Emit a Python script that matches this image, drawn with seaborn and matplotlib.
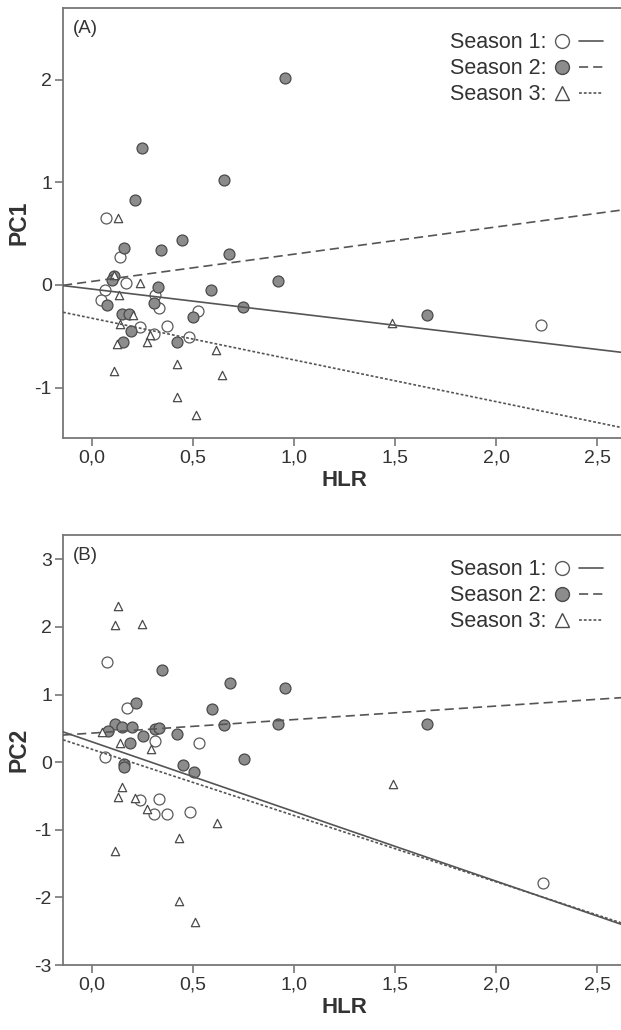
import numpy as np
import pandas as pd
import matplotlib
matplotlib.use("Agg")
import matplotlib.pyplot as plt
import seaborn as sns
from matplotlib.lines import Line2D
from matplotlib.legend_handler import HandlerTuple

# ---------------- data ----------------
# Panel A (PC1)
a_s1_hlr = [0.069, 0.139, 0.167, 0.064, 0.045, 0.31, 0.333, 0.526, 0.238, 0.37, 0.307, 0.48, 2.22]
a_s1_pc1 = [0.655, 0.276, 0.02, -0.05, -0.15, -0.10, -0.22, -0.25, -0.41, -0.40, -0.48, -0.51, -0.39]

a_s2_hlr = [0.249, 0.655, 0.213, 0.447, 0.158, 0.343, 0.68, 0.922, 0.106, 0.097, 0.325, 0.587,
            0.074, 0.308, 0.748, 0.147, 0.185, 0.498, 0.193, 0.155, 0.42, 0.955, 1.657]
a_s2_pc1 = [1.33, 1.02, 0.83, 0.44, 0.363, 0.34, 0.30, 0.04, 0.09, 0.05, -0.016, -0.05,
            -0.195, -0.18, -0.21, -0.28, -0.28, -0.31, -0.45, -0.56, -0.56, 2.02, -0.29]

a_s3_hlr = [0.127, 0.11, 0.239, 0.135, 0.204, 0.14, 0.287, 0.125, 0.27, 0.614, 0.419, 0.11,
            0.642, 0.419, 0.513, 1.487]
a_s3_pc1 = [0.65, 0.10, 0.02, -0.10, -0.29, -0.38, -0.49, -0.57, -0.56, -0.63, -0.77, -0.84,
            -0.88, -1.09, -1.27, -0.37]

# Panel B (PC2)
b_s1_hlr = [0.076, 0.172, 0.312, 0.53, 0.064, 0.238, 0.333, 0.307, 0.373, 0.485, 2.23]
b_s1_pc2 = [1.48, 0.80, 0.31, 0.29, 0.07, -0.56, -0.54, -0.76, -0.77, -0.74, -1.78]

b_s2_hlr = [0.345, 0.683, 0.955, 0.216, 0.592, 0.114, 0.147, 0.196, 0.078, 0.312, 0.333,
            0.251, 0.42, 0.655, 0.922, 0.188, 0.16, 0.16, 0.754, 0.452, 0.505, 1.66]
b_s2_pc2 = [1.37, 1.17, 1.09, 0.87, 0.78, 0.56, 0.52, 0.52, 0.46, 0.49, 0.51,
            0.38, 0.41, 0.55, 0.56, 0.28, -0.02, -0.07, 0.04, -0.04, -0.15, 0.56]

b_s3_hlr = [0.13, 0.114, 0.246, 0.048, 0.139, 0.29, 0.147, 0.13, 0.213, 0.274, 0.617,
            0.114, 0.43, 0.43, 0.51, 1.488]
b_s3_pc2 = [2.31, 2.03, 2.05, 0.45, 0.28, 0.19, -0.36, -0.51, -0.53, -0.70, -0.90,
            -1.31, -1.12, -2.06, -2.37, -0.32]

# fitted lines (intercept, slope) per season
a_intercepts = [-0.04, 0.035, -0.324]
a_slopes = [-0.235, 0.265, -0.406]
b_intercepts = [0.30, 0.43, 0.19]
b_slopes = [-1.03, 0.20, -0.98]

seasons = ["Season 1:", "Season 2:", "Season 3:"]
x_ticks = [0.0, 0.5, 1.0, 1.5, 2.0, 2.5]
x_ticklabels = ["0,0", "0,5", "1,0", "1,5", "2,0", "2,5"]
a_yticks = [-1, 0, 1, 2]
b_yticks = [-3, -2, -1, 0, 1, 2, 3]

# ---------------- style ----------------
sns.set_theme(style="white")
plt.rcParams["font.family"] = ["Liberation Sans", "DejaVu Sans"]

EDGE = "#777777"
LINE = "#555555"
TXT = "#333333"
GRAY = "#8c8c8c"
lw = 1.2
styles = [
    dict(marker="o", facecolor="white", edgecolor="#5a5a5a", s=62, linewidth=0.9),
    dict(marker="o", facecolor=GRAY, edgecolor="#4a4a4a", s=62, linewidth=0.9),
    dict(marker="^", facecolor="white", edgecolor="#4a4a4a", s=36, linewidth=0.9),
]
linestyles = ["-", (0, (5.5, 3)), (0, (1.7, 1.2))]

W, H = 621, 1030
fig = plt.figure(figsize=(W / 100, H / 100), dpi=100)
px_per_x = 202.0
left_px, right_px = 63, 625
xmin = -0.144
xmax = xmin + (right_px - left_px) / px_per_x

ax_a = fig.add_axes([left_px / W, 1 - 438 / H, (right_px - left_px) / W, (438 - 8) / H])
ax_b = fig.add_axes([left_px / W, 1 - 965 / H, (right_px - left_px) / W, (965 - 535) / H])

panels = [
    (ax_a, [(a_s1_hlr, a_s1_pc1), (a_s2_hlr, a_s2_pc1), (a_s3_hlr, a_s3_pc1)],
     a_intercepts, a_slopes, "PC1", (-1.49, 2.697), a_yticks, "(A)"),
    (ax_b, [(b_s1_hlr, b_s1_pc2), (b_s2_hlr, b_s2_pc2), (b_s3_hlr, b_s3_pc2)],
     b_intercepts, b_slopes, "PC2", (-3.0, 3.36), b_yticks, "(B)"),
]

for ax, series, icpts, slopes, ylab, ylim, yticks, tag in panels:
    for (xs, ys), st in zip(series, styles):
        df = pd.DataFrame({"HLR": xs, "PC": ys})
        sns.scatterplot(data=df, x="HLR", y="PC", ax=ax, marker=st["marker"],
                        facecolor=st["facecolor"], edgecolor=st["edgecolor"],
                        s=st["s"], linewidth=st["linewidth"], zorder=3, legend=False)
    xl = np.array([xmin, xmax])
    for b0, b1, ls in zip(icpts, slopes, linestyles):
        ax.plot(xl, b0 + b1 * xl, color=LINE, lw=lw, ls=ls, zorder=4)
    ax.set_xlim(xmin, xmax)
    ax.set_ylim(*ylim)
    ax.set_xticks(x_ticks)
    ax.set_xticklabels(x_ticklabels)
    ax.set_yticks(yticks)
    ax.set_yticklabels([str(v) for v in yticks])
    ax.tick_params(axis="both", direction="out", length=6, width=1.2, color=EDGE,
                   labelcolor=TXT, labelsize=14, pad=2)
    ax.tick_params(axis="x", bottom=True)
    ax.tick_params(axis="y", left=True)
    for sp in ax.spines.values():
        sp.set_color(EDGE)
        sp.set_linewidth(1.3)
    ax.set_xlabel("HLR", fontsize=16, fontweight="bold", color=TXT, labelpad=3)
    ax.set_ylabel(ylab, fontsize=16.5, fontweight="bold", color=TXT, labelpad=3)
    ax.text(0.018, 0.952, tag, transform=ax.transAxes, fontsize=13.5, color=TXT,
            ha="left", va="center")

    handles = []
    for st, ls in zip(styles, linestyles):
        mk = Line2D([], [], linestyle="none", marker=st["marker"],
                    markerfacecolor=st["facecolor"], markeredgecolor=st["edgecolor"],
                    markersize=10 if st["marker"] == "o" else 9.5, markeredgewidth=1.0)
        ln = Line2D([], [], color=LINE, lw=lw, ls=ls)
        handles.append((mk, ln))
    ax.legend(handles=handles, labels=seasons,
              handler_map={tuple: HandlerTuple(ndivide=None, pad=0.2)},
              markerfirst=False, frameon=False, loc="upper right",
              bbox_to_anchor=(0.977, 0.964), fontsize=15.5, handlelength=2.5,
              handletextpad=0.15, labelspacing=0.24, borderaxespad=0,
              labelcolor=TXT)

fig.savefig("out.png", dpi=100)
